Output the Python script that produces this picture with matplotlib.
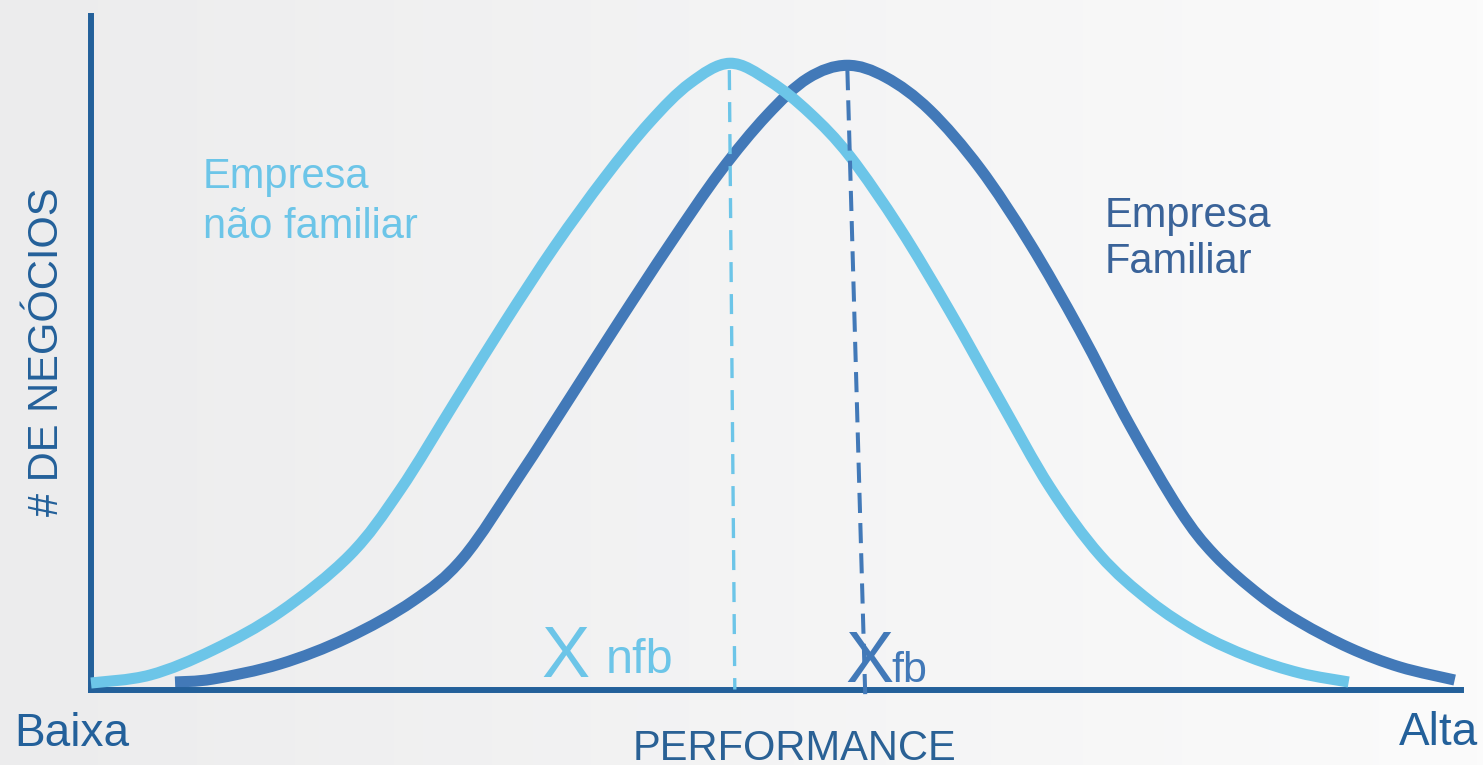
import numpy as np
import matplotlib
matplotlib.use('Agg')
import matplotlib.pyplot as plt
from matplotlib.path import Path
from matplotlib.patches import PathPatch

plt.rcParams['font.family'] = ['Liberation Sans', 'DejaVu Sans']

W, H = 1483, 765

# curva das empresas não familiares (performance, nº de negócios)
nfb_x = [0.0, 4.30, 8.89, 13.77, 18.86, 22.51, 26.51, 30.15, 33.79, 37.44, 40.71, 43.63,
         46.54, 49.45, 52.37, 55.28, 58.92, 62.56, 66.21, 69.85, 73.49, 77.13, 80.77,
         84.41, 88.06, 91.62]
nfb_y = [0.96, 2.14, 5.84, 11.46, 19.88, 29.49, 42.50, 54.32, 65.56, 75.76, 83.89, 89.65,
         92.61, 89.95, 85.22, 78.86, 68.22, 55.95, 42.79, 29.93, 19.88, 13.08, 8.20,
         4.80, 2.44, 1.11]

# curva das empresas familiares
fb_x = [6.12, 8.89, 13.77, 18.65, 23.45, 27.09, 31.25, 34.88, 38.53, 42.17, 45.81, 49.24,
        52.22, 55.06, 57.90, 61.11, 64.75, 68.39, 72.03, 75.67, 79.31, 81.86, 85.14,
        88.06, 91.70, 95.34, 99.34]
fb_y = [1.11, 1.55, 3.77, 7.61, 13.08, 19.44, 31.71, 43.09, 54.62, 65.85, 76.50, 84.92,
        90.39, 92.31, 90.54, 85.66, 77.09, 66.00, 53.14, 39.10, 26.53, 19.88, 13.97,
        9.98, 6.13, 3.33, 1.40]

# linhas das médias (topo, base)
nfb_mean_x = [46.5, 46.9]
nfb_mean_y = [91.6, 0.0]
fb_mean_x = [55.1, 56.4]
fb_mean_y = [91.6, -0.8]

c_light = '#6cc5e8'
c_dark = '#4279b8'
c_axis = '#23609a'
c_label = '#3a6399'


def smooth_path(xs, ys):
    # curva de Bézier passando pelos pontos (Catmull-Rom)
    p = np.column_stack([xs, ys])
    p = np.vstack([p[0], p, p[-1]])
    verts = [p[1]]
    codes = [Path.MOVETO]
    for i in range(1, len(p) - 2):
        c1 = p[i] + (p[i + 1] - p[i - 1]) / 6
        c2 = p[i + 1] - (p[i + 2] - p[i]) / 6
        verts += [c1, c2, p[i + 1]]
        codes += [Path.CURVE4] * 3
    return Path(verts, codes)


fig = plt.figure(figsize=(W / 100, H / 100), dpi=100)

# fundo em degradê
bg = fig.add_axes([0, 0, 1, 1], zorder=0)
grad = np.linspace(0, 1, 256).reshape(1, -1)
left = np.array([236, 236, 237]) / 255
right = np.array([251, 251, 251]) / 255
img = left[None, None, :] * (1 - grad[..., None]) + right[None, None, :] * grad[..., None]
bg.imshow(img, aspect='auto', extent=[0, 1, 0, 1])
bg.set_axis_off()


def fx(x):
    return x / W


def fy(y):
    return 1 - y / H


ax = fig.add_axes([fx(91), fy(689.5), (1461 - 91) / W, (689.5 - 16) / H], zorder=1)
ax.patch.set_alpha(0)
ax.set_xlim(0, 99.8)
ax.set_ylim(0, 99.6)
for s in ['top', 'right']:
    ax.spines[s].set_visible(False)
for s in ['left', 'bottom']:
    ax.spines[s].set_linewidth(4.3)
    ax.spines[s].set_color(c_axis)
ax.set_xticks([])
ax.set_yticks([])

ax.add_patch(PathPatch(smooth_path(fb_x, fb_y), facecolor='none', edgecolor=c_dark,
                       lw=8.0, capstyle='butt', joinstyle='round', clip_on=False, zorder=2))
ax.add_patch(PathPatch(smooth_path(nfb_x, nfb_y), facecolor='none', edgecolor=c_light,
                       lw=8.0, capstyle='butt', joinstyle='round', clip_on=False, zorder=3))

l1, = ax.plot(nfb_mean_x, nfb_mean_y, color=c_light, lw=2.4, clip_on=False, zorder=4)
l1.set_dashes((6.0, 3.6))
l2, = ax.plot(fb_mean_x, fb_mean_y, color=c_dark, lw=2.9, clip_on=False, zorder=4)
l2.set_dashes((5.0, 2.5))

fig.text(fx(203), fy(188), 'Empresa', fontsize=30, color=c_light, va='baseline')
fig.text(fx(203), fy(238), 'não familiar', fontsize=30, color=c_light, va='baseline')
fig.text(fx(1105), fy(227), 'Empresa', fontsize=30, color=c_label, va='baseline')
fig.text(fx(1105), fy(273), 'Familiar', fontsize=30, color=c_label, va='baseline')

fig.text(fx(47), fy(352), '# DE NEGÓCIOS', fontsize=30, color=c_axis, rotation=90,
         ha='center', va='center')
fig.text(fx(14), fy(746), 'Baixa', fontsize=33, color=c_axis, va='baseline')
fig.text(fx(1478), fy(745), 'Alta', fontsize=33, color=c_axis, va='baseline', ha='right')
fig.text(fx(794), fy(760), 'PERFORMANCE', fontsize=30, color='#2a6195', va='baseline', ha='center')

fig.text(fx(541), fy(677), 'X', fontsize=52, color=c_light, va='baseline')
fig.text(fx(606), fy(673), 'nfb', fontsize=35, color=c_light, va='baseline')
fig.text(fx(845), fy(682), 'X', fontsize=52, color=c_dark, va='baseline')
fig.text(fx(891), fy(682), 'fb', fontsize=31, color=c_dark, va='baseline')

fig.savefig('out.png', dpi=100)
